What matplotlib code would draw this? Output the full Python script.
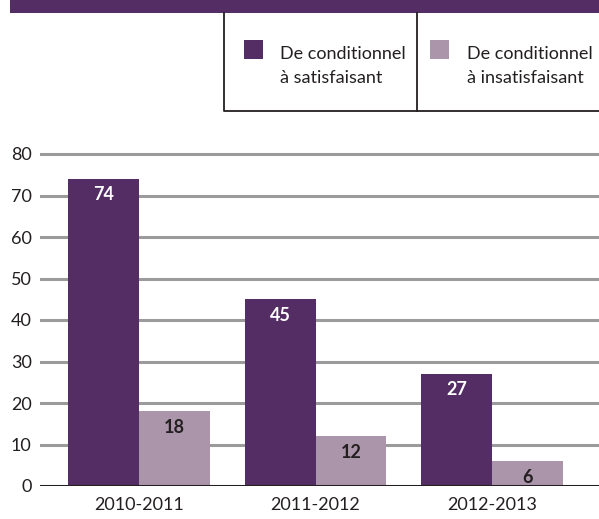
import matplotlib
matplotlib.use("Agg")
import matplotlib.pyplot as plt
from matplotlib.patches import Rectangle
import numpy as np

# data
periods = ["2010-2011", "2011-2012", "2012-2013"]
satisfaisant = [74, 45, 27]
insatisfaisant = [18, 12, 6]
series_labels = ["De conditionnel\nà satisfaisant", "De conditionnel\nà insatisfaisant"]
yticks = [0, 10, 20, 30, 40, 50, 60, 70, 80]

dark = "#532d63"
light = "#ab95aa"
textc = "#231f20"

plt.rcParams["font.family"] = ["Lato", "DejaVu Sans"]

W, H = 599, 519
fig = plt.figure(figsize=(W / 100, H / 100), dpi=100)

# main plot area in pixel terms: left 40, baseline y=486, 4.15 px per unit
px_unit = 4.15
ymax = 82
bottom_px = 486
top_px = bottom_px - ymax * px_unit
ax = fig.add_axes([40 / W, (H - bottom_px) / H, (W - 40) / W, (bottom_px - top_px) / H])

x = np.arange(len(periods))
w = 0.4
b1 = ax.bar(x - w / 2, satisfaisant, w, color=dark, zorder=3)
b2 = ax.bar(x + w / 2, insatisfaisant, w, color=light, zorder=3)

for rect, v in zip(b1, satisfaisant):
    ax.annotate(str(v), (rect.get_x() + rect.get_width() / 2, v), xytext=(0, -11.5),
                textcoords="offset points", ha="center", va="center",
                color="white", fontsize=13, fontweight="bold", zorder=4)
for rect, v in zip(b2, insatisfaisant):
    ax.annotate(str(v), (rect.get_x() + rect.get_width() / 2, v), xytext=(0, -11.5),
                textcoords="offset points", ha="center", va="center",
                color=textc, fontsize=13, fontweight="bold", zorder=4)

ax.set_xlim(-0.561, 2.606)
ax.set_ylim(0, ymax)
ax.set_yticks(yticks)
ax.set_xticks(x)
ax.set_xticklabels(periods)
ax.tick_params(axis="both", length=0, labelsize=13, colors=textc)
ax.tick_params(axis="y", pad=6)
ax.tick_params(axis="x", pad=8)
for t in yticks[1:]:
    ax.axhline(t, color="#9b9b9b", lw=2.2, zorder=1)
ax.axhline(0, color="#231f20", lw=2.2, zorder=5)
for s in ax.spines.values():
    s.set_visible(False)

# overlay for header band and legend box, in pixel coordinates
ov = fig.add_axes([0, 0, 1, 1], zorder=-1)
ov.set_xlim(0, W)
ov.set_ylim(H, 0)
ov.axis("off")
ov.add_patch(Rectangle((10, 0), W - 10, 13, color=dark, lw=0))
ov.plot([224, 224, W], [13, 111, 111], color="#231f20", lw=1.3)
ov.plot([417, 417], [13, 111], color="#231f20", lw=1.3)

for (sx, tx), col, lab in zip([(244, 280), (430, 467)], [dark, light], series_labels):
    ov.add_patch(Rectangle((sx, 40), 19, 19, color=col, lw=0))
    ov.text(tx, 66, lab, ha="left", va="center", fontsize=13, color=textc, linespacing=1.6)

fig.savefig("out.png", dpi=100)
